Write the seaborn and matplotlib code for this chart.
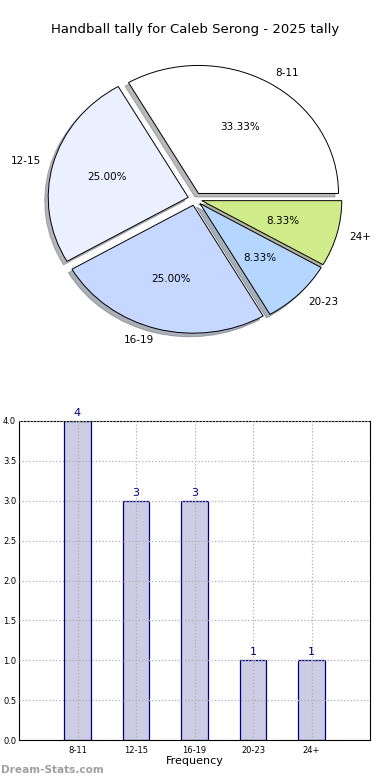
import matplotlib
matplotlib.use("Agg")
import matplotlib.pyplot as plt
import seaborn as sns
import pandas as pd

categories = ["8-11", "12-15", "16-19", "20-23", "24+"]
counts = [4, 3, 3, 1, 1]
pie_colors = ["#ffffff", "#eaf0ff", "#c6d8ff", "#b4d6ff", "#d0eb8a"]
title = "Handball tally for Caleb Serong - 2025 tally"
yticks = [0.0, 0.5, 1.0, 1.5, 2.0, 2.5, 3.0, 3.5, 4.0]

sns.set_style("white")
plt.rcParams['font.family'] = ['DejaVu Sans']
plt.rcParams['text.color'] = 'black'
plt.rcParams['xtick.color'] = 'black'
plt.rcParams['ytick.color'] = 'black'
plt.rcParams['axes.labelcolor'] = 'black'

fig = plt.figure(figsize=(3.9, 7.8), dpi=100)

# Pie (slightly elliptical like the reference)
cx, cy = 195, 199
rx, ry = 140, 128
L = 1.35
axp = fig.add_axes([(cx - L*rx)/390, 1 - (cy + L*ry)/780, 2*L*rx/390, 2*L*ry/780])
wedges, texts, autotexts = axp.pie(
    counts, labels=categories, colors=pie_colors, explode=[0.05]*5,
    autopct="%1.2f%%", startangle=0, counterclock=True,
    shadow={'ox': -0.018, 'oy': -0.02, 'shade': 0.55},
    wedgeprops=dict(edgecolor="black", linewidth=0.7),
    textprops=dict(fontsize=7.5, color="black"), labeldistance=1.09, pctdistance=0.6)
axp.set_xlim(-L, L)
axp.set_ylim(-L, L)
axp.set_aspect("auto")
axp.axis("off")
fig.text(0.5, 1 - 30/780, title, ha="center", va="center", fontsize=9.5, color="black")

# Bars
axb = fig.add_axes([19/390, 40/780, 351/390, 319/780])
df = pd.DataFrame({"cat": categories, "count": counts})
sns.barplot(data=df, x="cat", y="count", ax=axb, color="#ccccE4", saturation=1,
            width=0.45, edgecolor="#000080", linewidth=0.9)
axb.set_xlim(-1, 5)
axb.set_ylim(0, 4)
axb.set_yticks(yticks)
axb.set_yticklabels([f"{v:.1f}" for v in yticks], fontsize=6)
axb.tick_params(axis="x", labelsize=6, length=0, pad=4)
axb.tick_params(axis="y", length=0, pad=2)
axb.set_xlabel("Frequency", fontsize=8, labelpad=1)
axb.set_ylabel("")
axb.grid(True, linestyle=":", color="#b0b0b0", linewidth=0.9)
axb.set_axisbelow(False)
for s in axb.spines.values():
    s.set_visible(True)
    s.set_color("black")
    s.set_linewidth(0.8)
for i, v in enumerate(counts):
    axb.text(i, v + 0.04, str(v), ha="center", va="bottom", fontsize=8, color="#000080")

fig.text(1/390, 1 - 770/780, "Dream-Stats.com", ha="left", va="center",
         fontsize=7.6, color="#a0a0a0", fontweight="bold")

fig.savefig("out.png", dpi=100)
